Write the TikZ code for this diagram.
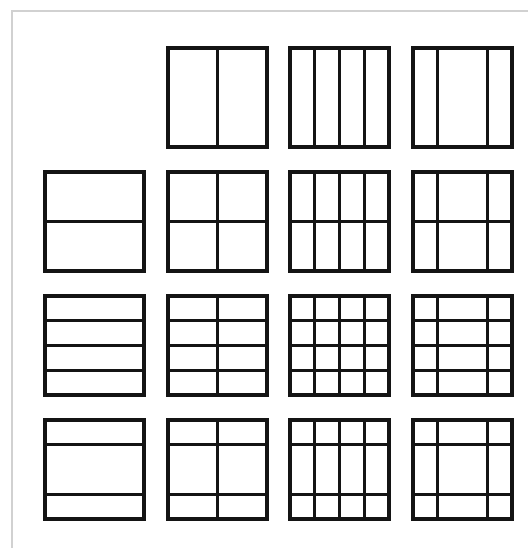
\documentclass[tikz,border=0pt]{standalone}
\begin{document}
\begin{tikzpicture}[x=1pt,y=-1pt,
  cellline/.style={line width=3.3pt, draw=black!92, line join=miter},
  frameline/.style={line width=1.3pt, draw=black!18}]
\useasboundingbox[fill=white] (0,0) rectangle (528,548);
% outer frame (only top and left edges are visible)
\draw[frameline] (12,548) -- (12,11) -- (528,11);
% cell outlines
\foreach \x in {45,168,290,413}
  \foreach \y in {172,296,420}
    \draw[cellline] (\x,\y) rectangle ++(99,99);
\foreach \x in {168,290,413}
  \draw[cellline] (\x,48) rectangle ++(99,99);
% vertical divisions
\foreach \y in {48,172,296,420} {
  \draw[cellline] (168+49.5,\y) -- ++(0,99);
  \foreach \f in {0.25,0.5,0.75}
    \draw[cellline] (290+99*\f,\y) -- ++(0,99);
  \foreach \f in {0.25,0.75}
    \draw[cellline] (413+99*\f,\y) -- ++(0,99);
}
% horizontal divisions
\foreach \x in {45,168,290,413} {
  \draw[cellline] (\x,172+49.5) -- ++(99,0);
  \foreach \f in {0.25,0.5,0.75}
    \draw[cellline] (\x,296+99*\f) -- ++(99,0);
  \foreach \f in {0.25,0.75}
    \draw[cellline] (\x,420+99*\f) -- ++(99,0);
}
\end{tikzpicture}
\end{document}
